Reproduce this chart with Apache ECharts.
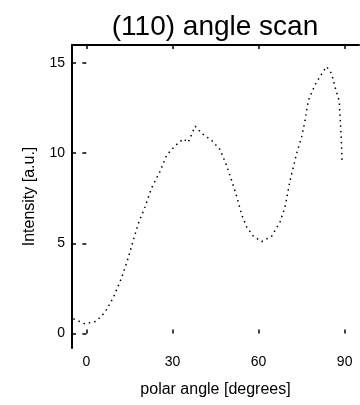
<!DOCTYPE html>
<html>
<head>
<meta charset="utf-8">
<script src="https://cdn.jsdelivr.net/npm/echarts@6/dist/echarts.min.js"></script>
<style>html,body{margin:0;padding:0;background:#fff}#c{width:360px;height:405px}</style>
</head>
<body>
<div id="c"></div>
<script>
var titleText = '(110) angle scan';
var xName = 'polar angle [degrees]';
var yName = 'Intensity [a.u.]';
var xTicks = [0, 30, 60, 90];
var yTicks = [0, 5, 10, 15];
var angle = [-4.5, -0.5, 3.4, 6.5, 9.4, 12.3, 14.6, 16.4, 18.1, 20.4, 22.8, 25.7, 28.0, 30.9, 33.8, 35.5, 37.9, 40.2, 43.7, 46.6, 48.9, 50.6, 52.4, 54.1, 55.9, 58.2, 61.1, 64.6, 67.5, 69.2, 71.0, 73.3, 75.0, 76.2, 77.3, 79.7, 82.0, 83.7, 85.5, 86.6, 88.1, 88.8, 89.1];
var intensity = [0.82, 0.54, 0.68, 1.18, 2.0, 3.1, 4.2, 5.2, 6.1, 7.0, 8.1, 9.0, 9.9, 10.4, 10.8, 10.6, 11.5, 11.1, 10.7, 10.2, 9.3, 8.5, 7.6, 6.6, 5.9, 5.4, 5.1, 5.4, 6.2, 7.0, 8.5, 10.0, 10.9, 11.8, 12.9, 13.8, 14.4, 14.8, 14.4, 13.7, 12.9, 10.9, 9.6];

var pts = angle.map(function (a, i) { return [a, intensity[i]]; });
var font = 'Liberation Sans';
var chart = echarts.init(document.getElementById('c'), null, {renderer: 'canvas'});
chart.setOption({
  backgroundColor: '#fff',
  animation: false,
  title: {
    text: titleText, left: 210, top: 8, textAlign: 'center',
    textStyle: {fontFamily: font, fontSize: 28, fontWeight: 'normal', color: '#000'}
  },
  grid: {left: 72, top: 45, right: 1, bottom: 57},
  xAxis: [{
    type: 'value', min: -5, max: 95, position: 'bottom',
    name: xName, nameLocation: 'middle', nameGap: 34,
    nameTextStyle: {fontFamily: font, fontSize: 16, color: '#000'},
    axisLine: {show: false},
    axisTick: {show: true, inside: true, length: 4, customValues: xTicks, lineStyle: {color: '#000', width: 1.5}},
    axisLabel: {customValues: xTicks, fontFamily: font, fontSize: 14, color: '#000', margin: 7},
    splitLine: {show: false}
  }, {
    type: 'value', min: -5, max: 95, position: 'top',
    axisLine: {show: true, onZero: false, lineStyle: {color: '#000', width: 2}},
    axisTick: {show: true, inside: true, length: 4, customValues: xTicks, lineStyle: {color: '#000', width: 1.5}},
    axisLabel: {show: false},
    splitLine: {show: false}
  }],
  yAxis: [{
    type: 'value', min: -0.8, max: 16, position: 'left',
    name: yName, nameLocation: 'middle', nameGap: 34, nameRotate: 90,
    nameTextStyle: {fontFamily: font, fontSize: 16, color: '#000'},
    axisLine: {show: true, onZero: false, lineStyle: {color: '#000', width: 2}},
    axisTick: {show: true, inside: true, length: 4, customValues: yTicks, lineStyle: {color: '#000', width: 1.5}},
    axisLabel: {customValues: yTicks, fontFamily: font, fontSize: 14, color: '#000', margin: 7},
    splitLine: {show: false}
  }, {
    type: 'value', min: -0.8, max: 16, position: 'right',
    axisLine: {show: false},
    axisTick: {show: true, inside: true, length: 4, customValues: yTicks, lineStyle: {color: '#000', width: 1.5}},
    axisLabel: {show: false},
    splitLine: {show: false}
  }],
  series: [{
    type: 'line', data: pts, xAxisIndex: 0, yAxisIndex: 0,
    showSymbol: false, smooth: false,
    lineStyle: {color: '#000', width: 1.5, type: [1.5, 4]}
  }]
});
</script>
</body>
</html>
